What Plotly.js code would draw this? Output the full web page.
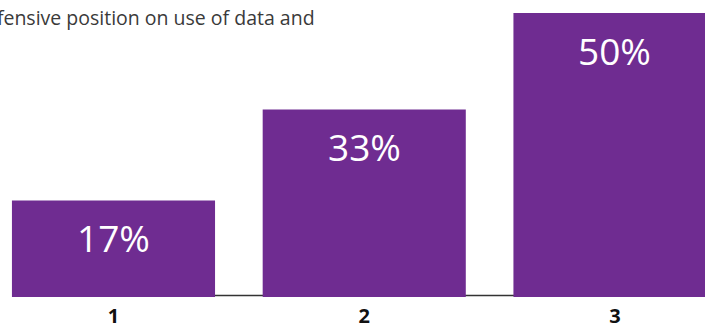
<!DOCTYPE html>
<html>
<head>
<meta charset="utf-8">
<script src="https://cdn.plot.ly/plotly-3.0.1.min.js"></script>
<style>html,body{margin:0;padding:0;background:#fff;}#chart{width:705px;height:329px;}</style>
</head>
<body>
<div id="chart"></div>
<script>
var categories = [0, 1, 2];
var tickLabels = ["1", "2", "3"];
var values = [17, 33, 50];
var valueLabels = ["17%", "33%", "50%"];
var introLines = [
  "and 'Aware' organisations in adoption, respectively, and",
  "the most defensive position on use of data and"
];

var barColor = "#6f2c91";
var font = "'Open Sans', sans-serif";

var trace = {
  type: "bar",
  x: categories,
  y: values,
  width: 0.81,
  marker: {color: barColor},
  hoverinfo: "none"
};

var annotations = values.map(function (v, i) {
  return {
    x: categories[i], y: v, xref: "x", yref: "y",
    text: valueLabels[i], showarrow: false,
    yanchor: "middle", yshift: -37,
    font: {family: font, size: 37, color: "#ffffff"}
  };
});

annotations.push({
  x: 317 / 705, y: 1 - 3 / 297, xref: "paper", yref: "paper",
  text: introLines[0], showarrow: false, xanchor: "right", yanchor: "bottom",
  font: {family: font, size: 19.5, color: "#3a3a3a"}
});
annotations.push({
  x: 317 / 705, y: 1 - 33 / 297, xref: "paper", yref: "paper",
  text: introLines[1], showarrow: false, xanchor: "right", yanchor: "bottom",
  font: {family: font, size: 19.5, color: "#3a3a3a"}
});

var layout = {
  width: 705, height: 329,
  margin: {l: 0, r: 0, t: 0, b: 32, pad: 0},
  paper_bgcolor: "#ffffff", plot_bgcolor: "#ffffff",
  showlegend: false,
  xaxis: {
    range: [-0.4526, 2.359],
    tickvals: categories, ticktext: tickLabels,
    showgrid: false, zeroline: false, showline: false,
    ticks: "", ticklabelstandoff: 5,
    tickfont: {family: font, size: 20, color: "#111111", weight: "bold"},
    fixedrange: true
  },
  yaxis: {
    range: [0, 52.3],
    visible: false, showgrid: false, zeroline: false,
    fixedrange: true
  },
  shapes: [{
    type: "line", layer: "below",
    xref: "x", x0: categories[0], x1: categories[categories.length - 1],
    yref: "y", ysizemode: "pixel", yanchor: 0, y0: 1.5, y1: 1.5,
    line: {color: "#333333", width: 1.5}
  }],
  annotations: annotations
};

Plotly.newPlot("chart", [trace], layout, {displayModeBar: false, staticPlot: true});
</script>
</body>
</html>
